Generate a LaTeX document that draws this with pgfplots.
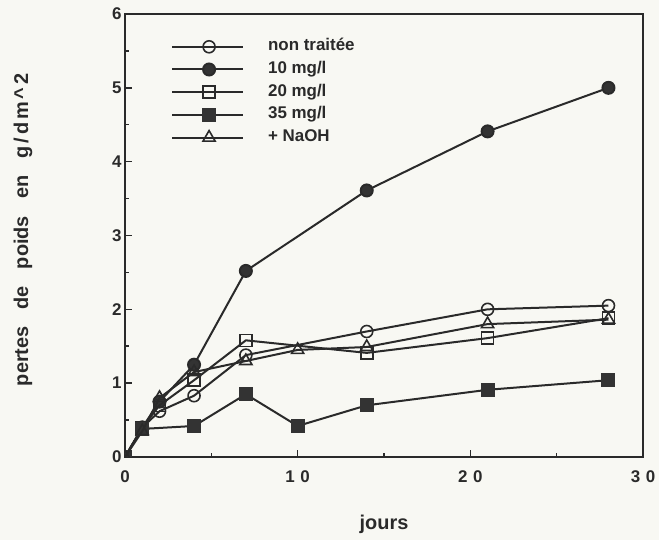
\documentclass[border=0pt]{standalone}
\usepackage{fontspec}
\setmainfont{Liberation Sans}
\usepackage{pgfplots}
\pgfplotsset{compat=1.18}
\usetikzlibrary{calc,backgrounds}
\definecolor{bg}{HTML}{F8F8F3}
\definecolor{mk}{HTML}{333333}
\definecolor{ln}{HTML}{2A2A2A}

\begin{document}
\begin{tikzpicture}
\begin{axis}[
  scale only axis, width=518bp, height=443bp,
  xmin=0, xmax=30, ymin=0, ymax=6,
  xtick={0,10,20,30}, xticklabels={0,1\,\,0,2\,\,0,3\,\,0},
  minor xtick={5,15,25},
  ytick={0,1,...,6}, minor ytick={0.5,1.5,...,5.5},
  tick align=inside, xtick pos=bottom, ytick pos=left,
  major tick length=7bp, minor tick length=4bp,
  axis line style={line width=2bp, ln},
  tick style={line width=1.5bp, ln},
  /pgf/number format/assume math mode=true,
  ticklabel style={font=\bfseries\fontsize{17}{19}\selectfont, ln},
  xticklabel shift=10bp,
  xlabel={\textbf{jours}},
  xlabel style={at={(axis description cs:0.5,0)}, anchor=center, yshift=-67bp,
    font=\fontsize{20}{22}\selectfont, ln},
  ylabel={\textbf{pertes\hspace{17bp}de\hspace{17bp}poids\hspace{17bp}en\hspace{17bp}g\hspace{3bp}/\hspace{3bp}d\hspace{3bp}m\hspace{3bp}\textasciicircum\hspace{3bp}2}},
  ylabel style={at={(axis description cs:0,0.513)}, anchor=center, yshift=102bp,
    font=\fontsize{20}{22}\selectfont, ln},
  clip marker paths=true,
  every axis plot/.append style={line width=2bp, ln, mark size=6bp},
  legend cell align=left,
  legend style={draw=none, fill=none, inner sep=0pt,
    at={(axis description cs:0.0886,1)}, yshift=-24.6bp,
    anchor=north west, font=\bfseries\fontsize{17}{19}\selectfont, text=ln,
    row sep=6.7bp,
    nodes={inner xsep=0pt, inner ysep=0pt, text height=12bp, text depth=4bp},
    /tikz/every odd column/.append style={column sep=24bp}},
  legend image code/.code={\draw[mark repeat=2,mark phase=2]
    plot coordinates {(0bp,0bp) (37bp,0bp) (71bp,0bp)};},
]
\addplot[mark=o, mark options={fill=white, line width=1.6bp}]
  coordinates {(0,0) (1,0.4) (2,0.62) (4,0.83) (7,1.38) (14,1.7) (21,2.0) (28,2.05)};
\addplot[mark=*, mark options={fill=mk, draw=ln}]
  coordinates {(0,0) (1,0.4) (2,0.75) (4,1.25) (7,2.52) (14,3.61) (21,4.41) (28,5.0)};
\addplot[mark=square, mark options={fill=white, line width=1.6bp}, mark size=6bp]
  coordinates {(0,0) (1,0.4) (2,0.7) (4,1.04) (7,1.58) (14,1.41) (21,1.61) (28,1.88)};
\addplot[mark=square*, mark options={fill=mk, draw=mk}, mark size=6bp]
  coordinates {(0,0) (1,0.38) (4,0.42) (7,0.85) (10,0.42) (14,0.7) (21,0.91) (28,1.04)};
\addplot[mark=triangle, mark options={fill=white, line width=1.6bp}, mark size=7bp]
  coordinates {(0,0) (1,0.35) (2,0.8) (4,1.15) (7,1.3) (10,1.45) (14,1.49) (21,1.8) (28,1.86)};
\legend{non traitée, 10 mg/l, 20 mg/l, 35 mg/l, + NaOH}
\end{axis}
\pgfresetboundingbox
\path ($(current axis.south west)+(-125bp,-83bp)$) coordinate (bbsw)
  ($(current axis.north east)+(16bp,14bp)$) coordinate (bbne);
\path[use as bounding box] (bbsw) rectangle (bbne);
\begin{scope}[on background layer]
\fill[bg] (bbsw) rectangle (bbne);
\end{scope}
\end{tikzpicture}
\end{document}
